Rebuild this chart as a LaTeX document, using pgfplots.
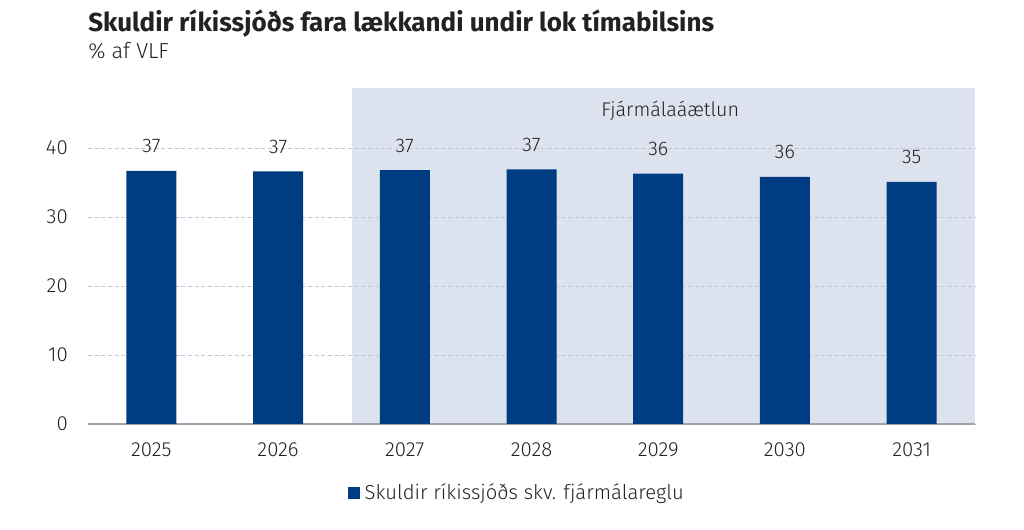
\documentclass[border=0pt]{standalone}
\usepackage{pgfplots}
\pgfplotsset{compat=1.18}
\usepackage{fontspec}
\IfFontExistsTF{Fira Sans Light}{\setmainfont{Fira Sans Light}}{\setmainfont{Fira Sans}}
\newfontfamily\titlefont{Fira Sans}
\definecolor{barblue}{HTML}{003C82}
\definecolor{shade}{HTML}{DCE3EE}
\definecolor{gridc}{HTML}{C3C9D4}
\definecolor{txt}{HTML}{222222}
\definecolor{axc}{HTML}{A0A3AB}

\pgfplotstableread{
x y
0 36.7
1 36.6
2 36.8
3 36.9
4 36.3
5 35.8
6 35.1
}\debt

\begin{document}
\begin{tikzpicture}
\path (0,0) rectangle (768pt,397.5pt);
\node[anchor=base west, text=txt, font=\titlefont\fontsize{19.5pt}{22pt}\selectfont\bfseries, inner sep=0pt] at (66pt,373.9pt) {Skuldir ríkissjóðs fara lækkandi undir lok tímabilsins};
\node[anchor=base west, text=txt, font=\fontsize{16.3pt}{18pt}\selectfont, inner sep=0pt] at (66pt,353.3pt) {\% af VLF};
\begin{axis}[
  set layers,
  at={(66pt,79.5pt)}, anchor=south west,
  scale only axis, width=665.25pt, height=252pt,
  xmin=-0.5, xmax=6.5, ymin=0, ymax=48.7,
  axis x line*=bottom, axis y line*=left,
  x axis line style={draw=axc, line width=0.8pt},
  y axis line style={draw=none},
  major tick length=0pt,
  xtick={0,...,6},
  xticklabels={2025,2026,2027,2028,2029,2030,2031},
  ytick={0,10,20,30,40},
  ymajorgrids,
  grid style={draw=gridc, dash pattern=on 3pt off 2pt, line width=0.6pt},
  tick label style={font=\fontsize{15.3pt}{17pt}\selectfont, text=txt},
  /pgf/number format/assume math mode=true,
  yticklabel style={inner sep=0pt, anchor=east, xshift=-15pt},
  xticklabel style={inner sep=0pt, anchor=base, yshift=-24.75pt},
  legend style={at={(0.484,-0.205)}, anchor=center, draw=none, fill=none,
    font=\fontsize{15.2pt}{17pt}\selectfont, text=txt, inner sep=0pt},
  legend image code/.code={\fill[barblue] (0pt,-4.5pt) rectangle (9pt,4.5pt); \path (9pt,0) -- (10.5pt,0);},
  legend cell align=left,
]
\addplot[on layer=axis background, fill=shade, draw=none, forget plot]
  coordinates {(1.585,48.7) (6.5,48.7)} \closedcycle;
\addplot[ybar, bar width=37.5pt, fill=barblue, draw=none,
  point meta=y,
  nodes near coords={\pgfmathprintnumber[fixed,precision=0]{\pgfplotspointmeta}},
  every node near coord/.append style={font=\fontsize{14.8pt}{17pt}\selectfont, text=txt, anchor=base, yshift=13.5pt, inner sep=0pt}]
  table[x=x,y=y] {\debt};
\addlegendentry{Skuldir ríkissjóðs skv. fjármálareglu}
\node[anchor=base, text=txt, font=\fontsize{14.8pt}{17pt}\selectfont, inner sep=0pt] at (axis cs:4.095,44.5) {Fjármálaáætlun};
\end{axis}
\end{tikzpicture}
\end{document}
